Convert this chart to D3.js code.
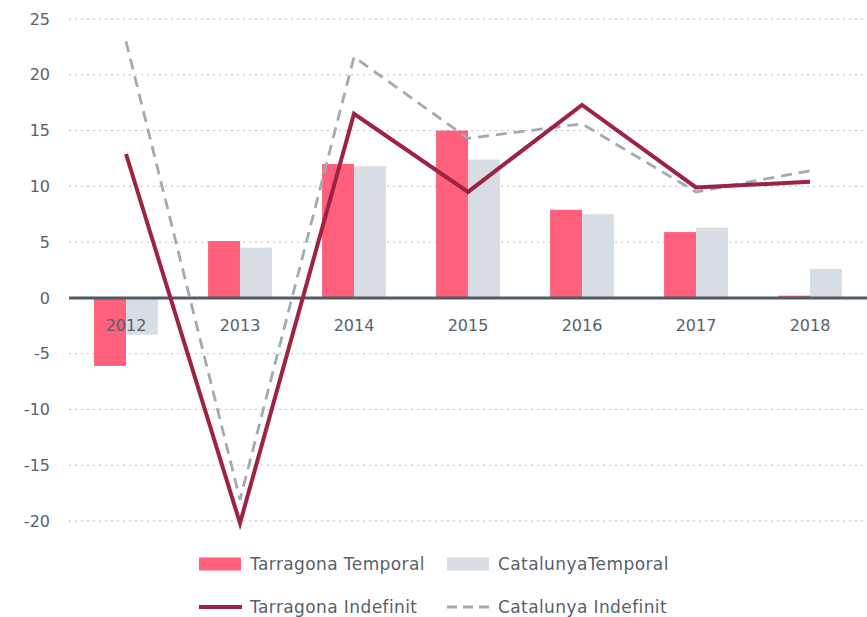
<!DOCTYPE html>
<html>
<head>
<meta charset="utf-8">
<script src="https://cdn.jsdelivr.net/npm/d3@7"></script>
<style>
  body { margin: 0; background: #fff; }
  text { font-family: "DejaVu Sans", sans-serif; fill: #56616b; }
</style>
</head>
<body>
<div id="chart"></div>
<script>
// data
const years = ["2012", "2013", "2014", "2015", "2016", "2017", "2018"];
const tarragonaTemporal = [-6.1, 5.1, 12.0, 15.0, 7.9, 5.9, 0.2];
const catalunyaTemporal = [-3.3, 4.5, 11.8, 12.4, 7.5, 6.3, 2.6];
const tarragonaIndefinit = [12.9, -20.2, 16.5, 9.5, 17.3, 9.9, 10.4];
const catalunyaIndefinit = [23.0, -18.1, 21.6, 14.3, 15.6, 9.5, 11.4];
const yTicks = [-20, -15, -10, -5, 0, 5, 10, 15, 20, 25];

const width = 867, height = 617;
const margin = {top: 19, left: 69, right: 0, bottom: 95};
const pink = "#ff607b", grey = "#d8dde3", darkRed = "#9e2342", dashGrey = "#a0abb4";

let svg = d3.select("#chart").append("svg")
    .attr("width", width)
    .attr("height", height);

const x = d3.scaleBand()
    .domain(years)
    .range([margin.left, width - margin.right])
    .paddingInner(0.44)
    .paddingOuter(0.22);
const x1 = d3.scaleBand()
    .domain(["t", "c"])
    .range([0, x.bandwidth()]);
const y = d3.scaleLinear()
    .domain([-20, 25])
    .range([521, 19]);

// gridlines
svg.append("g").selectAll("line").data(yTicks.filter(d => d != 0))
    .join("line")
    .attr("x1", margin.left)
    .attr("x2", width)
    .attr("y1", d => y(d))
    .attr("y2", d => y(d))
    .attr("stroke", "#b9bfc5")
    .attr("stroke-width", 1)
    .attr("stroke-dasharray", "2,4");

// y axis labels (plain hyphen minus like the original)
const yAxis = d3.axisLeft(y).tickValues(yTicks).tickSize(0).tickPadding(0)
    .tickFormat(d => String(d));
let yg = svg.append("g").attr("transform", "translate(50,0)").call(yAxis);
yg.select(".domain").remove();
yg.selectAll("text").attr("font-size", 16).attr("font-family", null).style("fill", "#56616b");

// bars
const barSeries = [
    {key: "t", values: tarragonaTemporal, color: pink},
    {key: "c", values: catalunyaTemporal, color: grey}
];
let groups = svg.append("g").selectAll("g").data(barSeries).join("g")
    .attr("fill", d => d.color);
groups.selectAll("rect")
    .data(d => d.values.map((v, i) => ({key: d.key, year: years[i], value: v})))
    .join("rect")
    .attr("x", d => x(d.year) + x1(d.key))
    .attr("width", x1.bandwidth())
    .attr("y", d => y(Math.max(0, d.value)))
    .attr("height", d => Math.abs(y(d.value) - y(0)));

// zero line
svg.append("line")
    .attr("x1", margin.left).attr("x2", width)
    .attr("y1", y(0)).attr("y2", y(0))
    .attr("stroke", "#4f5b66")
    .attr("stroke-width", 3);

// x labels
svg.append("g").selectAll("text").data(years).join("text")
    .attr("x", d => x(d) + x.bandwidth() / 2)
    .attr("y", y(0) + 33)
    .attr("text-anchor", "middle")
    .attr("font-size", 16)
    .text(d => d);

// lines
const line = d3.line()
    .x((d, i) => x(years[i]) + x.bandwidth() / 2)
    .y(d => y(d));
svg.append("path")
    .datum(catalunyaIndefinit)
    .attr("d", line)
    .attr("fill", "none")
    .attr("stroke", dashGrey)
    .attr("stroke-width", 2.8)
    .attr("stroke-dasharray", "11,7");
svg.append("path")
    .datum(tarragonaIndefinit)
    .attr("d", line)
    .attr("fill", "none")
    .attr("stroke", darkRed)
    .attr("stroke-width", 4);

// legend
const legendItems = [
    {label: "Tarragona Temporal", type: "rect", color: pink, x: 199, y: 564},
    {label: "CatalunyaTemporal", type: "rect", color: grey, x: 447, y: 564},
    {label: "Tarragona Indefinit", type: "line", color: darkRed, x: 199, y: 607},
    {label: "Catalunya Indefinit", type: "dash", color: dashGrey, x: 447, y: 607}
];
let legend = svg.append("g").selectAll("g").data(legendItems).join("g")
    .attr("transform", d => `translate(${d.x},${d.y})`);
legend.filter(d => d.type == "rect").append("rect")
    .attr("x", 0).attr("y", -6.5).attr("width", 42).attr("height", 13)
    .attr("fill", d => d.color);
legend.filter(d => d.type != "rect").append("line")
    .attr("x1", 0).attr("x2", 43).attr("y1", 0).attr("y2", 0)
    .attr("stroke", d => d.color)
    .attr("stroke-width", d => d.type == "line" ? 4 : 2.8)
    .attr("stroke-dasharray", d => d.type == "dash" ? "10,6" : null);
legend.append("text")
    .attr("x", 51)
    .attr("y", 0)
    .attr("dy", "0.35em")
    .attr("font-size", 17)
    .attr("letter-spacing", 0.4)
    .text(d => d.label);
</script>
</body>
</html>
